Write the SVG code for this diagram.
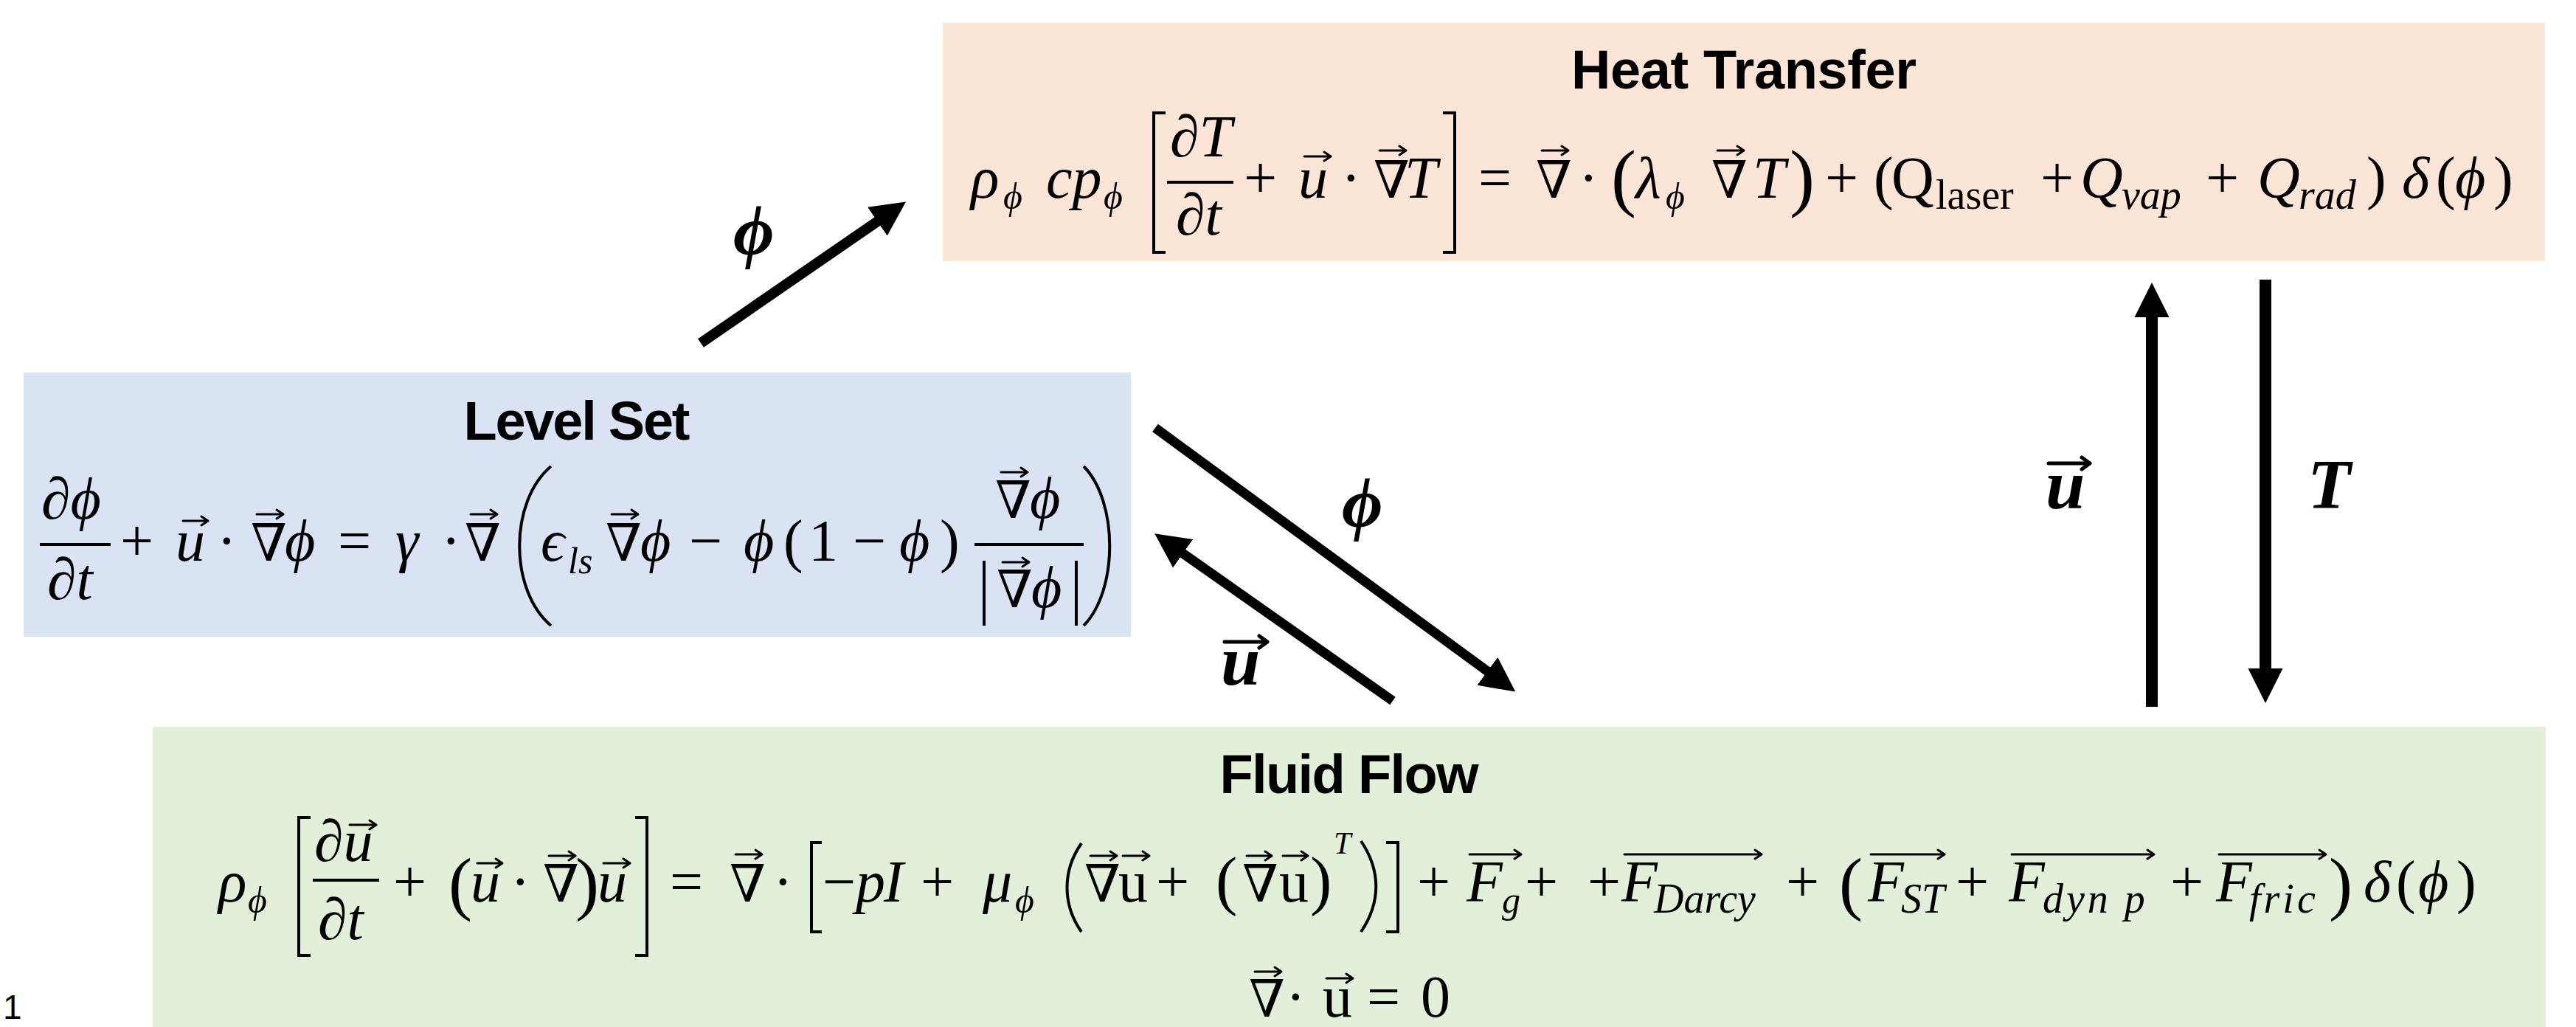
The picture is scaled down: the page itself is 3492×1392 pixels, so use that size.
<svg xmlns="http://www.w3.org/2000/svg" width="3492" height="1392" viewBox="0 0 3492 1392">
<defs>
<style>
.t{font-family:"Liberation Sans",Arial,sans-serif;font-weight:bold;font-size:74px;text-anchor:middle;fill:#000}
.m{font-family:"Liberation Serif","DejaVu Serif",serif;font-size:80px;font-style:italic;fill:#000}
.r{font-style:normal}
.n{font-size:70px}
.s{font-size:50px}
.sw{font-size:56px}
.ss{font-size:42px}
.p{font-size:96px}
.pb{font-size:102px}
.lbl{font-family:"Liberation Serif","DejaVu Serif",serif;font-size:96px;font-style:italic;font-weight:bold;fill:#000}
.del{fill:none;stroke:#000;stroke-width:4}
.bar{stroke:#000;stroke-width:4}
.va{fill:none;stroke:#000;stroke-width:3;stroke-linecap:round;stroke-linejoin:round}
.vb{fill:none;stroke:#000;stroke-width:5;stroke-linecap:round;stroke-linejoin:round}
.conn{fill:none;stroke:#000}
</style>
<marker id="ah" markerUnits="userSpaceOnUse" markerWidth="48" markerHeight="48" refX="2" refY="24" orient="auto">
<path d="M0,0.5 L47,24 L0,47.5 Z" fill="#000"/>
</marker>
</defs>
<rect width="3492" height="1392" fill="#fff"/>

<g id="heat">
<rect x="1278" y="31" width="2172" height="323" fill="#FBE5D6"/>
<text class="t" x="2364" y="120" textLength="468">Heat Transfer</text>
<text class="m" x="1316" y="268">ρ</text>
<text class="m s" x="1360" y="283">ϕ</text>
<text class="m" x="1418" y="268">cp</text>
<text class="m s" x="1496" y="283">ϕ</text>
<path class="del" d="M1580,153 H1564 V342 H1580"/>
<text class="m" x="1586" y="212">∂T</text>
<line class="bar" x1="1582" y1="247" x2="1672" y2="247"/>
<text class="m" x="1594" y="318">∂t</text>
<text class="m r" x="1686" y="268">+</text>
<text class="m" x="1760" y="268">u</text>
<path class="va" d="M1768,212 h36 m-9,-6 l9,6 l-9,6"/>
<text class="m r" x="1818" y="268">·</text>
<text class="m n" x="1862" y="268">∇</text>
<path class="va" d="M1870,204 h36 m-9,-6 l9,6 l-9,6"/>
<text class="m" x="1904" y="268">T</text>
<path class="del" d="M1956,153 H1972 V342 H1956"/>
<text class="m r" x="2004" y="268">=</text>
<text class="m n" x="2082" y="268">∇</text>
<path class="va" d="M2090,204 h36 m-9,-6 l9,6 l-9,6"/>
<text class="m r" x="2140" y="268">·</text>
<text class="m r pb" x="2184" y="274">(</text>
<text class="m" x="2217" y="268">λ</text>
<text class="m s" x="2258" y="283">ϕ</text>
<text class="m n" x="2320" y="268">∇</text>
<path class="va" d="M2328,204 h36 m-9,-6 l9,6 l-9,6"/>
<text class="m" x="2376" y="268">T</text>
<text class="m r pb" x="2426" y="274">)</text>
<text class="m r" x="2474" y="268">+</text>
<text class="m r" x="2540" y="268">(</text>
<text class="m r" x="2564" y="268">Q</text>
<text class="m r sw" x="2624" y="283">laser</text>
<text class="m r" x="2766" y="268">+</text>
<text class="m" x="2820" y="268">Q</text>
<text class="m sw" x="2876" y="283">vap</text>
<text class="m r" x="2990" y="268">+</text>
<text class="m" x="3060" y="268">Q</text>
<text class="m sw" x="3116" y="283">rad</text>
<text class="m r" x="3208" y="268">)</text>
<text class="m" x="3256" y="268">δ</text>
<text class="m r" x="3302" y="268">(</text>
<text class="m" x="3328" y="268">ϕ</text>
<text class="m r" x="3380" y="268">)</text>
</g>

<g id="levelset">
<rect x="32" y="505" width="1501" height="358" fill="#DAE3F3"/>
<text class="t" x="782" y="596" textLength="307">Level Set</text>
<text class="m" x="56" y="703">∂ϕ</text>
<line class="bar" x1="54" y1="738" x2="150" y2="738"/>
<text class="m" x="64" y="812">∂t</text>
<text class="m r" x="163" y="760">+</text>
<text class="m" x="238" y="760">u</text>
<path class="va" d="M248,706 h34 m-9,-6 l9,6 l-9,6"/>
<text class="m r" x="294" y="760">·</text>
<text class="m n" x="340" y="760">∇</text>
<path class="va" d="M348,697 h36 m-9,-6 l9,6 l-9,6"/>
<text class="m" x="386" y="760">ϕ</text>
<text class="m r" x="458" y="760">=</text>
<text class="m" x="536" y="760">γ</text>
<text class="m r" x="598" y="760">·</text>
<text class="m n" x="630" y="760">∇</text>
<path class="va" d="M638,697 h36 m-9,-6 l9,6 l-9,6"/>
<path class="del" d="M747,632 C690,680 690,800 747,848"/>
<text class="m" x="733" y="760">ϵ</text>
<text class="m s" x="770" y="777">ls</text>
<text class="m n" x="821" y="760">∇</text>
<path class="va" d="M829,697 h36 m-9,-6 l9,6 l-9,6"/>
<text class="m" x="868" y="760">ϕ</text>
<text class="m r" x="934" y="760">−</text>
<text class="m" x="1008" y="760">ϕ</text>
<text class="m r" x="1062" y="760">(</text>
<text class="m r" x="1096" y="760">1</text>
<text class="m r" x="1156" y="760">−</text>
<text class="m" x="1219" y="760">ϕ</text>
<text class="m r" x="1274" y="760">)</text>
<text class="m n" x="1349" y="702">∇</text>
<path class="va" d="M1357,640 h36 m-9,-6 l9,6 l-9,6"/>
<text class="m" x="1396" y="702">ϕ</text>
<line class="bar" x1="1321" y1="738" x2="1469" y2="738"/>
<line class="bar" x1="1334" y1="760" x2="1334" y2="848"/>
<text class="m n" x="1351" y="823">∇</text>
<path class="va" d="M1359,762 h36 m-9,-6 l9,6 l-9,6"/>
<text class="m" x="1398" y="823">ϕ</text>
<line class="bar" x1="1459" y1="760" x2="1459" y2="848"/>
<path class="del" d="M1469,632 C1516,680 1516,800 1469,848"/>
</g>

<g id="fluidflow">
<rect x="207" y="985" width="3244" height="407" fill="#E2F0D9"/>
<text class="t" x="1829" y="1075" textLength="351">Fluid Flow</text>
<text class="m" x="296" y="1222">ρ</text>
<text class="m s" x="336" y="1237">ϕ</text>
<path class="del" d="M421,1108 H405 V1295 H421"/>
<text class="m" x="426" y="1167">∂u</text>
<path class="va" d="M474,1118 h36 m-9,-6 l9,6 l-9,6"/>
<line class="bar" x1="424" y1="1193" x2="514" y2="1193"/>
<text class="m" x="431" y="1273">∂t</text>
<text class="m r" x="533" y="1222">+</text>
<text class="m r p" x="608" y="1229">(</text>
<text class="m" x="638" y="1222">u</text>
<path class="va" d="M647,1170 h34 m-9,-6 l9,6 l-9,6"/>
<text class="m r" x="692" y="1222">·</text>
<text class="m n" x="736" y="1222">∇</text>
<path class="va" d="M744,1160 h36 m-9,-6 l9,6 l-9,6"/>
<text class="m r p" x="780" y="1229">)</text>
<text class="m" x="810" y="1222">u</text>
<path class="va" d="M818,1170 h36 m-9,-6 l9,6 l-9,6"/>
<path class="del" d="M861,1108 H877 V1295 H861"/>
<text class="m r" x="908" y="1222">=</text>
<text class="m n" x="989" y="1222">∇</text>
<path class="va" d="M997,1158 h36 m-9,-6 l9,6 l-9,6"/>
<text class="m r" x="1048" y="1222">·</text>
<path class="del" d="M1114,1142 H1100 V1263 H1114"/>
<text class="m r" x="1115" y="1222">−</text>
<text class="m" x="1160" y="1222">p</text>
<text class="m" x="1198" y="1222">I</text>
<text class="m r" x="1248" y="1222">+</text>
<text class="m" x="1332" y="1222">μ</text>
<text class="m s" x="1376" y="1237">ϕ</text>
<path class="del" d="M1466,1143 C1440,1180 1440,1226 1466,1263"/>
<text class="m n" x="1470" y="1222">∇</text>
<path class="va" d="M1478,1160 h36 m-9,-6 l9,6 l-9,6"/>
<text class="m r" x="1516" y="1222">u</text>
<path class="va" d="M1522,1160 h36 m-9,-6 l9,6 l-9,6"/>
<text class="m r" x="1567" y="1222">+</text>
<text class="m r" x="1648" y="1223" style="font-size:88px">(</text>
<text class="m n" x="1684" y="1222">∇</text>
<path class="va" d="M1690,1160 h34 m-9,-6 l9,6 l-9,6"/>
<text class="m r" x="1734" y="1222">u</text>
<path class="va" d="M1739,1160 h34 m-9,-6 l9,6 l-9,6"/>
<text class="m r" x="1776" y="1223" style="font-size:88px">)</text>
<text class="m ss" x="1808" y="1157">T</text>
<path class="del" d="M1845,1140 C1872,1180 1872,1223 1845,1263"/>
<path class="del" d="M1879,1142 H1895 V1263 H1879"/>
<text class="m r" x="1921" y="1222">+</text>
<text class="m" x="1988" y="1222">F</text>
<text class="m s" x="2036" y="1237">g</text>
<path class="va" d="M1992,1158 h70 m-9,-6 l9,6 l-9,6"/>
<text class="m r" x="2067" y="1222">+</text>
<text class="m r" x="2152" y="1222">+</text>
<text class="m" x="2198" y="1222">F</text>
<text class="m sw" x="2242" y="1237">Darcy</text>
<path class="va" d="M2202,1158 h186 m-9,-6 l9,6 l-9,6"/>
<text class="m r" x="2421" y="1222">+</text>
<text class="m r p" x="2493" y="1229">(</text>
<text class="m" x="2532" y="1222">F</text>
<text class="m sw" x="2577" y="1237">ST</text>
<path class="va" d="M2536,1158 h100 m-9,-6 l9,6 l-9,6"/>
<text class="m r" x="2651" y="1222">+</text>
<text class="m" x="2723" y="1222">F</text>
<text class="m sw" x="2769" y="1237" letter-spacing="4">dyn p</text>
<path class="va" d="M2727,1158 h193 m-9,-6 l9,6 l-9,6"/>
<text class="m r" x="2942" y="1222">+</text>
<text class="m" x="3004" y="1222">F</text>
<text class="m sw" x="3049" y="1237" letter-spacing="4">fric</text>
<path class="va" d="M3008,1158 h145 m-9,-6 l9,6 l-9,6"/>
<text class="m r p" x="3157" y="1229">)</text>
<text class="m" x="3204" y="1222">δ</text>
<text class="m r" x="3248" y="1222">(</text>
<text class="m" x="3278" y="1222">ϕ</text>
<text class="m r" x="3330" y="1222">)</text>
<text class="m n" x="1693" y="1378">∇</text>
<path class="va" d="M1701,1317 h36 m-9,-6 l9,6 l-9,6"/>
<text class="m r" x="1743" y="1378">·</text>
<text class="m r" x="1793" y="1378">u</text>
<path class="va" d="M1798,1326 h36 m-9,-6 l9,6 l-9,6"/>
<text class="m r" x="1853" y="1378">=</text>
<text class="m r" x="1926" y="1378">0</text>
</g>

<g id="connectors">
<path class="conn" stroke-width="14" d="M950,465 L1191,299" marker-end="url(#ah)"/>
<path class="conn" stroke-width="13" d="M1566,580 L2018,911" marker-end="url(#ah)"/>
<path class="conn" stroke-width="13" d="M1888,950 L1602,749" marker-end="url(#ah)"/>
<path class="conn" stroke-width="16" d="M2917,958 L2917,428" marker-end="url(#ah)"/>
<path class="conn" stroke-width="16" d="M3071,379 L3071,908" marker-end="url(#ah)"/>
<text class="lbl" x="994" y="345">ϕ</text>
<text class="lbl" x="1819" y="714">ϕ</text>
<text class="lbl" x="1655" y="928">u</text>
<path class="vb" d="M1660,870 h58 m-11,-8 l11,8 l-11,8"/>
<text class="lbl" x="2773" y="689">u</text>
<path class="vb" d="M2777,628 h56 m-11,-8 l11,8 l-11,8"/>
<text class="lbl" x="3128" y="689">T</text>
</g>

<text x="4" y="1381" font-family="Liberation Sans,Arial,sans-serif" font-size="46">1</text>
</svg>
